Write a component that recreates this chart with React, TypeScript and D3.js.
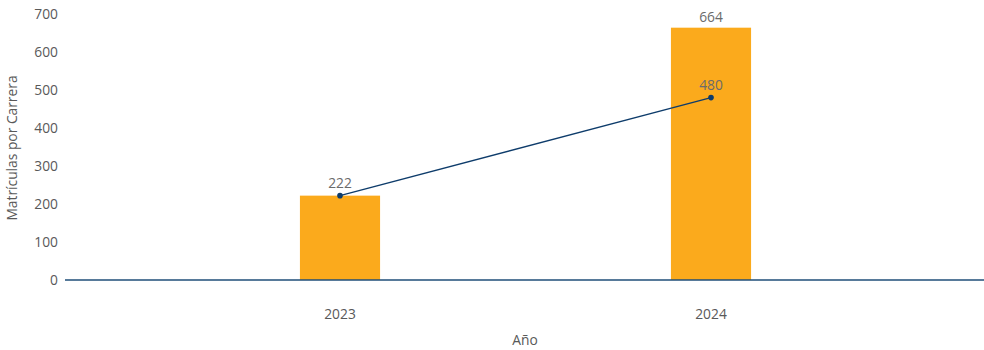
import React from "react";
import * as d3 from "d3";

const categories = ["2023", "2024"];
const barValues = [222, 664];
const lineValues = [222, 480];
const yTicks = [0, 100, 200, 300, 400, 500, 600, 700];

const W = 984;
const H = 350;
const FONT = "'Open Sans', 'Noto Sans', sans-serif";
const GREY = "#595959";
const LABEL = "#6b6b6b";

export default function App() {
  const y = d3.scaleLinear().domain([0, 700]).range([280, 14]);
  const x = d3.scaleBand<string>().domain(categories).range([154.5, 896.5]).paddingInner(0.784).paddingOuter(0.392);
  const bw = x.bandwidth();
  const cx = (c: string) => (x(c) as number) + bw / 2;
  const line = d3
    .line<number>()
    .x((_, i) => cx(categories[i]))
    .y((d) => y(d));

  return (
    <div style={{ position: "absolute", left: 0, top: 0 }}>
      <svg width={W} height={H} style={{ display: "block", fontFamily: FONT }}>
        {yTicks.map((t) => (
          <text key={t} x={58} y={y(t)} dy="0.35em" textAnchor="end" fontSize={13.8} fill={GREY}>
            {t}
          </text>
        ))}
        {categories.map((c, i) => (
          <rect key={c} x={x(c)} y={y(barValues[i])} width={bw} height={y(0) - y(barValues[i])} fill="#FBAA1C" />
        ))}
        <line x1={65} x2={984} y1={y(0)} y2={y(0)} stroke="#1F4E79" strokeWidth={1.3} />
        <path d={line(lineValues) || ""} fill="none" stroke="#0E3C6B" strokeWidth={1.3} />
        {lineValues.map((v, i) => (
          <circle key={i} cx={cx(categories[i])} cy={y(v)} r={2.8} fill="#0E3C6B" />
        ))}
        {categories.map((c, i) =>
          barValues[i] !== lineValues[i] ? (
            <text key={"b" + c} x={cx(c)} y={y(barValues[i]) - 6} textAnchor="middle" fontSize={13.8} fill={LABEL}>
              {barValues[i]}
            </text>
          ) : null
        )}
        {lineValues.map((v, i) => (
          <text key={"l" + i} x={cx(categories[i])} y={y(v) - 7.5} textAnchor="middle" fontSize={13.8} fill={LABEL}>
            {v}
          </text>
        ))}
        {categories.map((c) => (
          <text key={"x" + c} x={cx(c)} y={319} textAnchor="middle" fontSize={13.8} fill={GREY}>
            {c}
          </text>
        ))}
        <text x={525} y={345} textAnchor="middle" fontSize={13.8} fill={GREY}>
          Año
        </text>
        <text transform={`translate(17,148) rotate(-90)`} textAnchor="middle" fontSize={13.8} fill={GREY}>
          Matrículas por Carrera
        </text>
      </svg>
    </div>
  );
}
